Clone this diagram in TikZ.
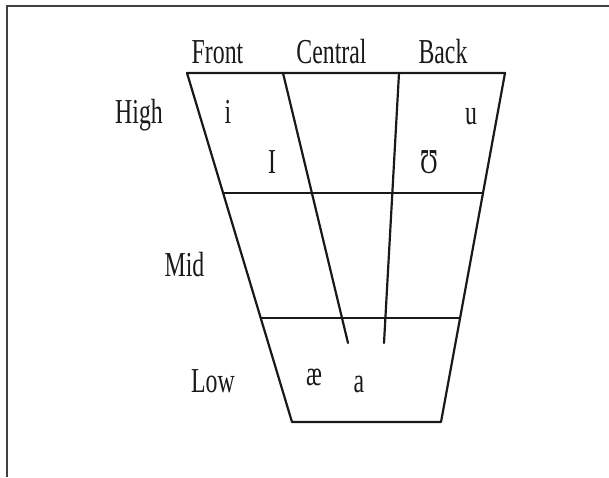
\documentclass[tikz,border=0pt]{standalone}
\usepackage{fontspec}
\setmainfont{Liberation Serif}
\newfontfamily\chartfont[FakeStretch=0.68]{Liberation Serif}
\begin{document}
\begin{tikzpicture}[x=1pt,y=-1pt,
  chartline/.style={line width=2.2pt, draw=black!90, line cap=round, line join=round},
  frameline/.style={line width=2pt, draw=black!75},
  lbl/.style={anchor=base, inner sep=0pt, text=black!90, font=\chartfont\fontsize{35}{40}\selectfont}]
\useasboundingbox (0,0) rectangle (609,477);
% frame (top and left edges)
\draw[frameline] (7,477) -- (7,6) -- (609,6);
% trapezoid corners
\coordinate (TL) at (187,73);
\coordinate (TR) at (505,73);
\coordinate (BR) at (441,422);
\coordinate (BL) at (292,422);
\coordinate (HL) at (223.1,193);
\coordinate (HR) at (483,193);
\coordinate (LL) at (260.7,318);
\coordinate (LR) at (460.1,318);
\coordinate (C1t) at (283,73);
\coordinate (C1b) at (348,343);
\coordinate (C2t) at (399,73);
\coordinate (C2b) at (384,343);
\draw[chartline] (TL) -- (TR) -- (BR) -- (BL) -- cycle;
\draw[chartline] (HL) -- (HR);
\draw[chartline] (LL) -- (LR);
\draw[chartline] (C1t) -- (C1b);
\draw[chartline] (C2t) -- (C2b);
% labels
\node[lbl] (front) at (217.5,63) {Front};
\node[lbl] (central) at (331.5,63) {Central};
\node[lbl] (back) at (443,63) {Back};
\node[lbl] (high) at (139,123) {High};
\node[lbl] (mid) at (184.5,276) {Mid};
\node[lbl] (low) at (213,392) {Low};
% vowels
\node[lbl] (vi) at (228,123) {i};
\node[lbl] (vu) at (471,124) {u};
\node[lbl] (vI) at (272,173) {I};
\node[lbl] (vU) at (429,173) {Ʊ};
\node[lbl] (vae) at (314,385) {æ};
\node[lbl] (va) at (359,392) {a};
\end{tikzpicture}
\end{document}
